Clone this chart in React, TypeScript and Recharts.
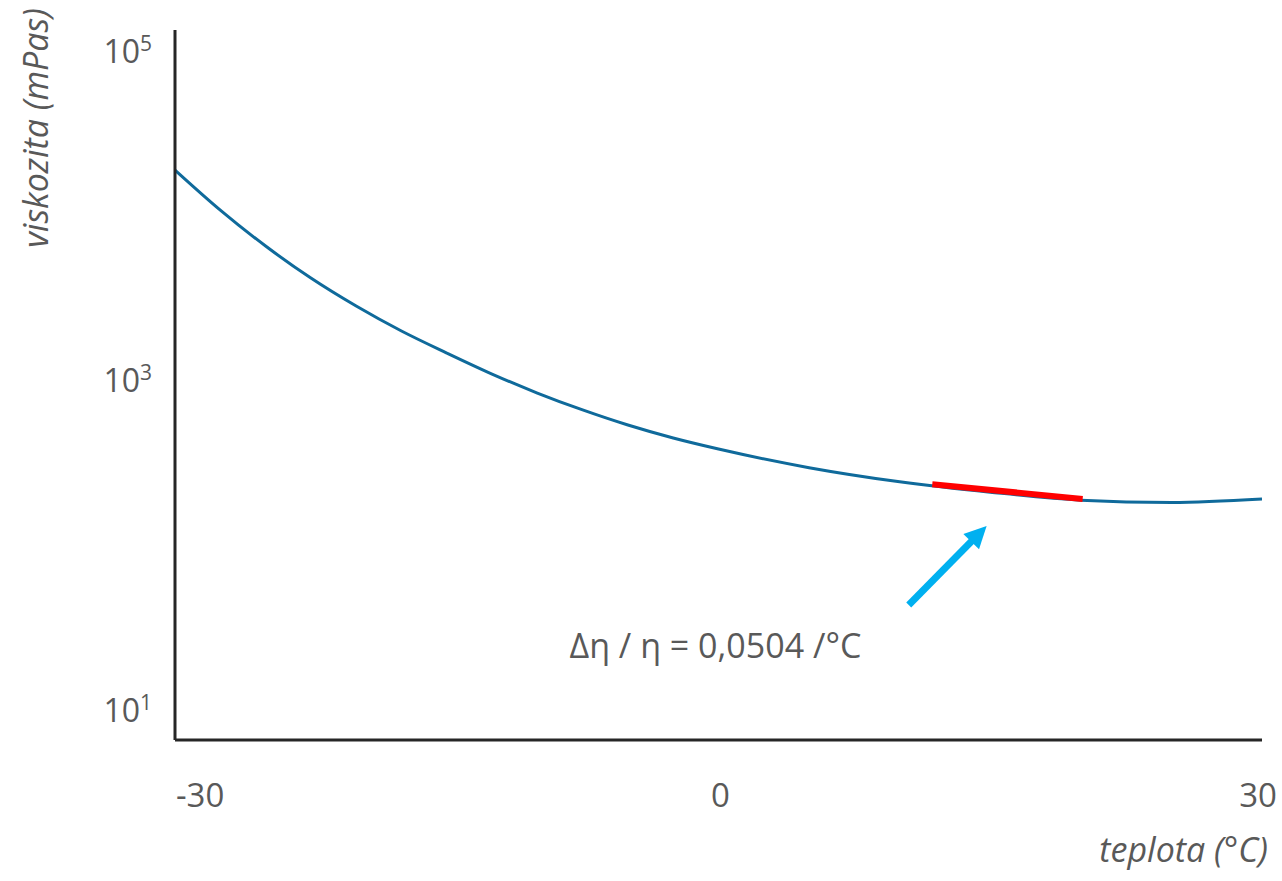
import React from 'react';
import { LineChart, Line, XAxis, YAxis, ReferenceLine, ReferenceDot } from 'recharts';

// temperature (°C) and viscosity (mPas)
const temps = [-30, -27.5, -25, -22.5, -20, -17.5, -15, -12.5, -10, -7.5, -5, -2.5, 0, 5, 10, 15, 20, 25, 30];
const viscosity = [18960, 10835, 6552, 4190, 2833, 1998, 1469, 1095, 840, 663, 537, 448, 384, 296, 243, 210, 188, 182, 191];

// red tangent segment
const tangentT = [11.8, 20.1];
const tangentEta = [235, 191];

// blue arrow (tail -> tip)
const arrowT = [10.5, 14.8];
const arrowEta = [43.4, 131];

const xTicks = [-30, 0, 30];
const yTicks = [10, 1000, 100000];
const annotation = { t: -0.17, eta: 24.6, text: 'Δη / η = 0,0504 /°C' };

const curve = temps.map((t, i) => ({ t, eta: viscosity[i] }));
const tangent = tangentT.map((t, i) => ({ t, eta: tangentEta[i] }));

const FONT = '"Open Sans", sans-serif';
const TEXT = '#595959';

const XTick = (props: any) => {
  const { x, y, payload } = props;
  const v = payload.value;
  let anchor = 'middle';
  let dx = 2;
  if (v === -30) { anchor = 'start'; dx = 1; }
  if (v === 30) { anchor = 'end'; dx = 15; }
  return (
    <text x={x + dx} y={y} textAnchor={anchor} fill={TEXT} fontSize={33} fontFamily={FONT}>
      {v}
    </text>
  );
};

const YTick = (props: any) => {
  const { x, y, payload } = props;
  const exp = Math.round(Math.log10(payload.value));
  return (
    <text x={x} y={y} dy="0.36em" textAnchor="end" fill={TEXT} fontSize={32} fontFamily={FONT}>
      <tspan>10</tspan>
      <tspan fontSize={21} dy={-12}>{exp}</tspan>
    </text>
  );
};

const Arrow = (props: any) => {
  const { x1, y1, x2, y2 } = props;
  const dx = x2 - x1;
  const dy = y2 - y1;
  const len = Math.sqrt(dx * dx + dy * dy);
  const ux = dx / len;
  const uy = dy / len;
  const head = 22;
  const half = 11;
  const bx = x2 - ux * head;
  const by = y2 - uy * head;
  const pts = `${x2},${y2} ${bx - uy * half},${by + ux * half} ${bx + uy * half},${by - ux * half}`;
  return (
    <g>
      <line x1={x1} y1={y1} x2={x2 - ux * (head - 4)} y2={y2 - uy * (head - 4)} stroke="#00B0F0" strokeWidth={7} />
      <polygon points={pts} fill="#00B0F0" />
    </g>
  );
};

export default function App() {
  return (
    <div style={{ position: 'absolute', left: 0, top: 0, width: 1282, height: 881, background: '#fff' }}>
      <LineChart width={1282} height={881} data={curve} margin={{ top: 30, right: 20, bottom: 0, left: 0 }}>
        <XAxis
          type="number"
          dataKey="t"
          domain={[-30, 30]}
          ticks={xTicks}
          tick={<XTick />}
          tickLine={false}
          tickSize={0}
          tickMargin={67}
          height={141}
          axisLine={{ stroke: '#262626', strokeWidth: 3 }}
          label={{
            content: (p: any) => (
              <text
                x={p.viewBox.x + p.viewBox.width + 6}
                y={p.viewBox.y + 122}
                textAnchor="end"
                fill={TEXT}
                fontSize={34}
                fontStyle="italic"
                fontFamily={FONT}
              >
                teplota (°C)
              </text>
            ),
          }}
        />
        <YAxis
          scale="log"
          domain={[6.58, 134200]}
          allowDataOverflow
          ticks={yTicks}
          tick={<YTick />}
          tickLine={false}
          tickSize={0}
          tickMargin={23}
          width={175}
          axisLine={{ stroke: '#262626', strokeWidth: 3 }}
          label={{
            content: (p: any) => (
              <text
                x={p.viewBox.x + 35}
                y={p.viewBox.y + 98}
                textAnchor="middle"
                dominantBaseline="central"
                transform={`rotate(-90, ${p.viewBox.x + 35}, ${p.viewBox.y + 98})`}
                fill={TEXT}
                fontSize={34}
                fontStyle="italic"
                fontFamily={FONT}
              >
                viskozita (mPas)
              </text>
            ),
          }}
        />
        <Line
          type="monotone"
          dataKey="eta"
          stroke="#0F6A9B"
          strokeWidth={3}
          dot={false}
          activeDot={false}
          isAnimationActive={false}
        />
        <Line
          data={tangent}
          type="linear"
          dataKey="eta"
          stroke="#FF0000"
          strokeWidth={6}
          dot={false}
          activeDot={false}
          isAnimationActive={false}
        />
        <ReferenceLine
          segment={[
            { x: arrowT[0], y: arrowEta[0] },
            { x: arrowT[1], y: arrowEta[1] },
          ]}
          shape={(p: any) => <Arrow {...p} />}
        />
        <ReferenceDot
          x={annotation.t}
          y={annotation.eta}
          r={0}
          stroke="none"
          fill="none"
          label={{
            content: (p: any) => {
              const vb = p.viewBox || {};
              const cx = (vb.x ?? 0) + (vb.width ?? 0) / 2;
              const cy = (vb.y ?? 0) + (vb.height ?? 0) / 2;
              return (
                <text x={cx} y={cy} dy="0.36em" textAnchor="middle" fill={TEXT} fontSize={34} fontFamily={FONT}>
                  {annotation.text}
                </text>
              );
            },
          }}
        />
      </LineChart>
    </div>
  );
}
